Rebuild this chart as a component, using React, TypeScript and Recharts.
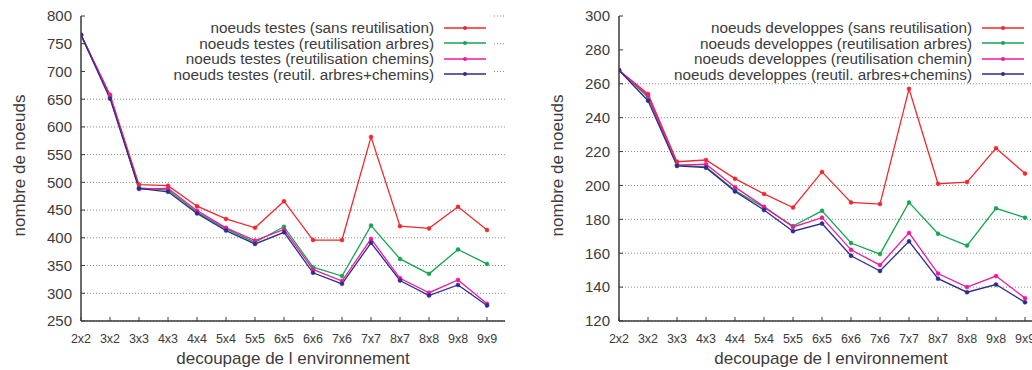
import React from "react";
import { LineChart, Line, XAxis, YAxis, CartesianGrid, Legend } from "recharts";

const categories = ["2x2", "3x2", "3x3", "4x3", "4x4", "5x4", "5x5", "6x5", "6x6", "7x6", "7x7", "8x7", "8x8", "9x8", "9x9"];

// noeuds testes
const testesSans = [766, 658, 496, 494, 457, 434, 418, 466, 396, 396, 582, 421, 417, 456, 414];
const testesArbres = [766, 654, 490, 486, 446, 416, 392, 420, 347, 331, 422, 362, 335, 379, 353];
const testesChemins = [766, 656, 488, 489, 449, 418, 395, 415, 343, 322, 398, 327, 301, 324, 281];
const testesArbresChemins = [766, 651, 489, 483, 444, 413, 389, 410, 337, 317, 391, 323, 296, 315, 278];
const testesTicks = [250, 300, 350, 400, 450, 500, 550, 600, 650, 700, 750, 800];

// noeuds developpes
const devSans = [268, 254, 214, 215, 204, 195, 187, 208, 190, 189, 257, 201, 202, 222, 207];
const devArbres = [268, 252, 212, 211, 197, 187, 176, 185, 166, 159.5, 190, 171.5, 164.5, 186.5, 181];
const devChemin = [268, 253, 212, 212.5, 199, 187.5, 175.5, 181, 162, 153, 172, 148, 140, 146.5, 133.5];
const devArbresChemins = [268, 250, 211.5, 210.5, 196.5, 185.5, 173, 177.5, 158.5, 149.5, 167, 145, 137, 141.5, 131];
const devTicks = [120, 140, 160, 180, 200, 220, 240, 260, 280, 300];

const testesNames = [
  "noeuds testes (sans reutilisation)",
  "noeuds testes (reutilisation arbres)",
  "noeuds testes (reutilisation chemins)",
  "noeuds testes (reutil. arbres+chemins)",
];
const devNames = [
  "noeuds developpes (sans reutilisation)",
  "noeuds developpes (reutilisation arbres)",
  "noeuds developpes (reutilisation chemin)",
  "noeuds developpes (reutil. arbres+chemins)",
];

const colors = ["#f0282d", "#16a650", "#f0189b", "#2d2d8f"];
const xIndex = categories.map((_, i) => i);

const FONT = '"Liberation Sans", Arial, sans-serif';
const INK = "#3a3a3a";
const TEXT = "#3c3c3c";

function buildRows(series: number[][]) {
  return xIndex.map((i) => ({
    i,
    s0: series[0][i],
    s1: series[1][i],
    s2: series[2][i],
    s3: series[3][i],
  }));
}

const gridLine = (props: any) => {
  const { x1, x2, y1, y2, index } = props;
  // the key box keeps the grid out, except a small bit near the right border
  const start = y1 < 80 ? x2 - 11 : x1;
  return (
    <line key={`h-${index}`} x1={start} x2={x2} y1={y1} y2={y2} stroke="#8a8a8a" strokeWidth={1} strokeDasharray="1 2" />
  );
};

function XTitle(props: any) {
  const vb = props.viewBox || { x: 0, y: 0, width: 0 };
  return (
    <text x={vb.x + vb.width / 2} y={vb.y + 43} textAnchor="middle" fontFamily={FONT} fontSize={17} fill={TEXT}>
      decoupage de l environnement
    </text>
  );
}

function YTitle(props: any) {
  const vb = props.viewBox || { x: 0, y: 0, height: 0 };
  const cx = vb.x + 25;
  const cy = vb.y + vb.height / 2 - 3;
  return (
    <text x={cx} y={cy} transform={`rotate(-90, ${cx}, ${cy})`} textAnchor="middle" fontFamily={FONT} fontSize={17} fill={TEXT}>
      nombre de noeuds
    </text>
  );
}

function KeyBox(props: any) {
  const payload = props.payload ?? [];
  return (
    <div style={{ fontFamily: FONT, fontSize: 15.3, color: TEXT }}>
      {payload.map((p: any) => (
        <div key={p.value} style={{ display: "flex", alignItems: "center", height: 15.5 }}>
          <span style={{ width: 434, textAlign: "right", whiteSpace: "nowrap", lineHeight: "15.5px" }}>{p.value}</span>
          <svg width={42} height={8} style={{ marginLeft: 10, display: "block" }}>
            <line x1={0} x2={42} y1={4} y2={4} stroke={p.color} strokeWidth={1.4} />
            <circle cx={21} cy={4} r={2} fill={p.color} />
          </svg>
        </div>
      ))}
    </div>
  );
}

type PanelProps = {
  series: number[][];
  names: string[];
  ticks: number[];
};

function Panel({ series, names, ticks }: PanelProps) {
  const data = buildRows(series);
  const domain: [number, number] = [ticks[0], ticks[ticks.length - 1]];
  const xDomain: [number, number] = [0, 14.62];
  return (
    <LineChart width={538} height={370} data={data} margin={{ top: 16, right: 33, bottom: 0, left: 0 }}>
      <CartesianGrid xAxisId="b" yAxisId="l" vertical={false} horizontal={gridLine} />
      <XAxis
        xAxisId="b"
        dataKey="i"
        type="number"
        domain={xDomain}
        allowDataOverflow
        ticks={xIndex}
        interval={0}
        tickFormatter={(v: number) => categories[v]}
        height={49}
        tickSize={-4}
        tickMargin={17}
        tick={{ fontFamily: FONT, fontSize: 12.5, fill: TEXT }}
        axisLine={{ stroke: INK, strokeWidth: 1.5 }}
        tickLine={{ stroke: INK, strokeWidth: 1 }}
        label={<XTitle />}
      />
      <XAxis
        xAxisId="t"
        orientation="top"
        dataKey="i"
        type="number"
        domain={xDomain}
        allowDataOverflow
        ticks={xIndex}
        interval={0}
        height={0}
        tick={false}
        tickSize={-4}
        axisLine={{ stroke: INK, strokeWidth: 1.5 }}
        tickLine={{ stroke: INK, strokeWidth: 1 }}
      />
      <YAxis
        yAxisId="l"
        type="number"
        domain={domain}
        allowDataOverflow
        ticks={ticks}
        interval={0}
        width={81}
        tickSize={-4}
        tickMargin={13}
        tick={{ fontFamily: FONT, fontSize: 15, fill: TEXT }}
        axisLine={{ stroke: INK, strokeWidth: 1.5 }}
        tickLine={{ stroke: INK, strokeWidth: 1 }}
        label={<YTitle />}
      />
      <YAxis
        yAxisId="r"
        orientation="right"
        type="number"
        domain={domain}
        allowDataOverflow
        ticks={ticks}
        interval={0}
        width={0}
        tick={false}
        tickSize={-4}
        axisLine={{ stroke: INK, strokeWidth: 1.5 }}
        tickLine={{ stroke: INK, strokeWidth: 1 }}
      />
      <Legend
        layout="vertical"
        align="center"
        verticalAlign="middle"
        itemSorter="dataKey"
        content={<KeyBox />}
        wrapperStyle={{ top: 20, left: 0, width: 538 }}
      />
      {names.map((name, k) => (
        <Line
          key={name}
          xAxisId="b"
          yAxisId="l"
          dataKey={`s${k}`}
          name={name}
          stroke={colors[k]}
          strokeWidth={1.3}
          dot={{ r: 2, fill: colors[k], stroke: colors[k], strokeWidth: 0.5 }}
          isAnimationActive={false}
        />
      ))}
    </LineChart>
  );
}

export default function App() {
  return (
    <div style={{ position: "absolute", left: 0, top: 0, width: 1032, height: 370, overflow: "hidden", background: "#fff" }}>
      <div style={{ position: "absolute", left: 0, top: 0 }}>
        <Panel series={[testesSans, testesArbres, testesChemins, testesArbresChemins]} names={testesNames} ticks={testesTicks} />
      </div>
      <div style={{ position: "absolute", left: 538, top: 0 }}>
        <Panel series={[devSans, devArbres, devChemin, devArbresChemins]} names={devNames} ticks={devTicks} />
      </div>
    </div>
  );
}
